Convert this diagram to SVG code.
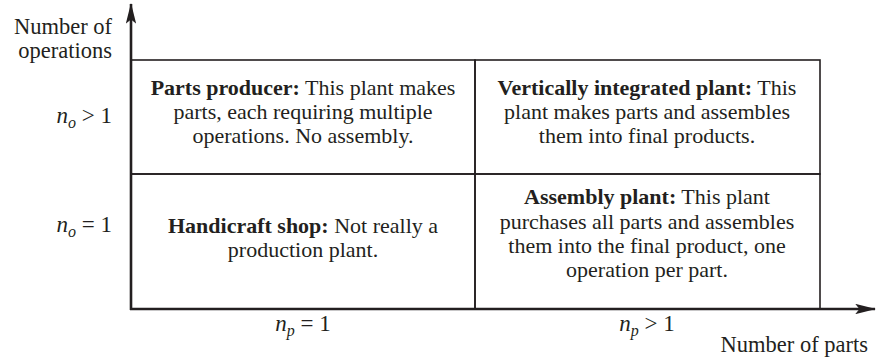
<svg xmlns="http://www.w3.org/2000/svg" width="876" height="358" viewBox="0 0 876 358">
<style>
text{font-family:"Liberation Serif","Times New Roman",serif;fill:#231f20}
.t{font-size:22px;text-anchor:middle}
.b{font-weight:bold}
.ax{font-size:22.5px}
.m{font-size:23px}
.i{font-style:italic}
.cell{fill:none;stroke:#231f20;stroke-width:1.6}
.axis{stroke:#231f20;stroke-width:2.6;fill:none}
</style>
<defs>
<marker id="ah" viewBox="0 0 20 10" refX="19" refY="5" markerWidth="8" markerHeight="4" orient="auto" markerUnits="strokeWidth">
<path d="M0,0 L20,5 L0,10 L4,5 Z" fill="#231f20"/>
</marker>
</defs>
<rect width="876" height="358" fill="#fff"/>
<g id="cell-parts-producer">
<rect class="cell" x="131" y="60" width="344" height="114"/>
<text class="t" x="303" y="95"><tspan class="b">Parts producer:</tspan> This plant makes</text>
<text class="t" x="303" y="119">parts, each requiring multiple</text>
<text class="t" x="303" y="143">operations. No assembly.</text>
</g>
<g id="cell-vertically-integrated">
<rect class="cell" x="475" y="60" width="345" height="114"/>
<text class="t" x="647" y="95"><tspan class="b">Vertically integrated plant:</tspan> This</text>
<text class="t" x="647" y="119">plant makes parts and assembles</text>
<text class="t" x="647" y="143">them into final products.</text>
</g>
<g id="cell-handicraft">
<rect class="cell" x="131" y="174" width="344" height="135"/>
<text class="t" x="303" y="233"><tspan class="b">Handicraft shop:</tspan> Not really a</text>
<text class="t" x="303" y="257">production plant.</text>
</g>
<g id="cell-assembly">
<rect class="cell" x="475" y="174" width="345" height="135"/>
<text class="t" x="647" y="204"><tspan class="b">Assembly plant:</tspan> This plant</text>
<text class="t" x="647" y="229">purchases all parts and assembles</text>
<text class="t" x="647" y="253">them into the final product, one</text>
<text class="t" x="647" y="277">operation per part.</text>
</g>
<g id="connectors">
<line class="axis" x1="131" y1="310" x2="131" y2="4" marker-end="url(#ah)"/>
<line class="axis" x1="130" y1="309" x2="875" y2="309" marker-end="url(#ah)"/>
</g>
<g id="labels">
<text class="ax" x="112" y="34" text-anchor="end">Number of</text>
<text class="ax" x="112" y="58" text-anchor="end">operations</text>
<text class="ax" x="868" y="352" text-anchor="end">Number of parts</text>
<text class="m" x="112" y="123" text-anchor="end"><tspan class="i">n</tspan><tspan class="i" font-size="16" dy="5">o</tspan><tspan dy="-5"> &gt; 1</tspan></text>
<text class="m" x="112" y="232" text-anchor="end"><tspan class="i">n</tspan><tspan class="i" font-size="16" dy="5">o</tspan><tspan dy="-5"> = 1</tspan></text>
<text class="m" x="303" y="331" text-anchor="middle"><tspan class="i">n</tspan><tspan class="i" font-size="16" dy="5">p</tspan><tspan dy="-5"> = 1</tspan></text>
<text class="m" x="647" y="331" text-anchor="middle"><tspan class="i">n</tspan><tspan class="i" font-size="16" dy="5">p</tspan><tspan dy="-5"> &gt; 1</tspan></text>
</g>
</svg>
